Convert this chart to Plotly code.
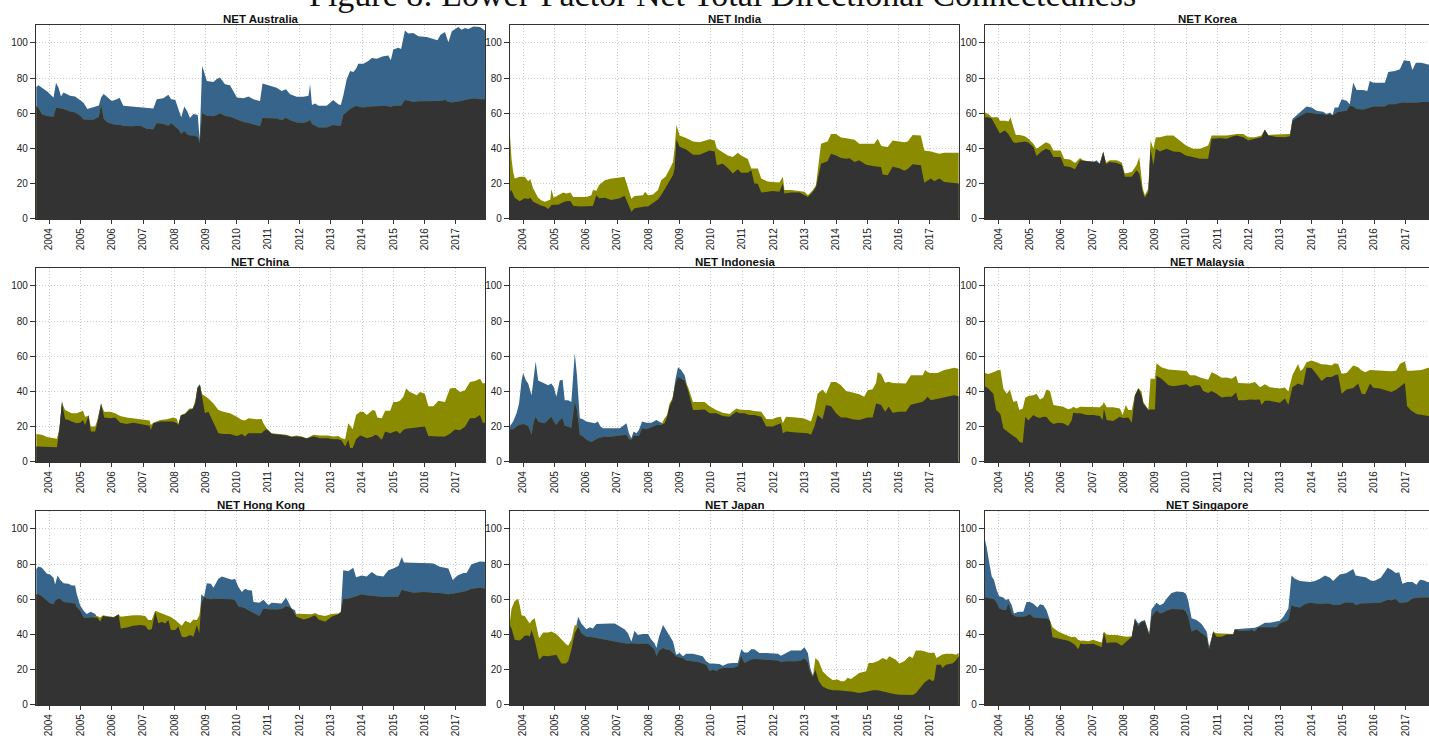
import numpy as np
import plotly.graph_objects as go

# ---------------------------------------------------------------------------
# Net total directional connectedness per market: "to others" vs "from others"
# (time in decimal years)
# ---------------------------------------------------------------------------
aus_t = [2003.59, 2003.66, 2003.77, 2003.93, 2004.14, 2004.22, 2004.30, 2004.38, 2004.46, 2004.67,
         2004.83, 2004.99, 2005.10, 2005.22, 2005.42, 2005.59, 2005.66, 2005.74, 2005.84, 2006.00,
         2006.16, 2006.25, 2006.37, 2006.64, 2006.91, 2007.12, 2007.33, 2007.44, 2007.65, 2007.81,
         2007.90, 2008.03, 2008.13, 2008.22, 2008.32, 2008.42, 2008.50, 2008.61, 2008.75, 2008.81,
         2008.89, 2009.04, 2009.25, 2009.36, 2009.46, 2009.62, 2009.78, 2010.00, 2010.21, 2010.37,
         2010.53, 2010.74, 2010.82, 2011.06, 2011.27, 2011.43, 2011.57, 2011.70, 2011.91, 2012.13,
         2012.29, 2012.34, 2012.40, 2012.50, 2012.61, 2012.87, 2013.08, 2013.24, 2013.32, 2013.40,
         2013.51, 2013.62, 2013.72, 2013.81, 2013.88, 2014.04, 2014.20, 2014.31, 2014.47, 2014.68,
         2014.84, 2014.92, 2015.00, 2015.16, 2015.25, 2015.37, 2015.48, 2015.64, 2015.80, 2016.07,
         2016.28, 2016.41, 2016.51, 2016.65, 2016.76, 2016.87, 2017.08, 2017.18, 2017.29, 2017.40,
         2017.56, 2017.77, 2017.93]
aus_to = [75, 76, 74.5, 72.5, 69, 77.4, 74.5, 69.5, 71.8, 70,
          69.5, 67.5, 66, 62.4, 63.3, 64.5, 69, 71, 69.5, 67,
          68, 68.8, 64.3, 63.9, 63.5, 63, 62.8, 68, 68.6, 70.5,
          68, 67.7, 62.4, 57.7, 63.9, 60.9, 57.3, 59.6, 59, 45,
          87, 78.4, 77.8, 79.5, 80.3, 76.5, 75.9, 69, 68.6, 69.5,
          68, 67, 76.9, 75.9, 74.6, 72.7, 73.7, 70.9, 69.4, 69.4,
          70, 76.5, 64.7, 65.6, 64.3, 64.3, 67.5, 65.2, 64.7, 70,
          79.3, 84, 83.5, 85.3, 88.2, 88.2, 89.7, 91.5, 91, 92.5,
          92.9, 90.2, 96.2, 97.2, 96.6, 107.1, 105.3, 105.6, 103.8, 103.4,
          102.3, 101.5, 104.7, 106.2, 100.4, 106.6, 109, 107.5, 108.5, 107.9,
          109.4, 109, 107.1]
aus_from = [64, 63, 59.5, 58.5, 58, 63, 63, 62.8, 62.5, 61,
            60.5, 58.6, 56.5, 56.4, 56.4, 58, 64.7, 57, 55, 54,
            53.4, 53.5, 52.8, 52.6, 53, 51.1, 51, 54.5, 53.9, 53,
            54.5, 52.3, 51, 48.3, 50, 48, 47.4, 47.4, 46.5, 43,
            60, 58.6, 58.3, 59, 60, 58.5, 58, 56.5, 55, 54.5,
            53.6, 52.6, 57.3, 57.3, 57, 56, 57.5, 56, 54.8, 54.5,
            55.5, 56.4, 53.9, 53, 52, 52, 53.4, 53, 53, 59,
            61, 62.4, 63.5, 64.3, 63.8, 63.3, 63.7, 63.8, 63.9, 64.3,
            64, 63.5, 64.3, 64.3, 64.3, 67.5, 67, 66.5, 66.8, 66.9,
            66.9, 67, 67, 67.5, 66.5, 66.2, 66.5, 67, 67.5, 68,
            68.4, 68, 68]

ind_t = [2003.57, 2003.63, 2003.68, 2003.73, 2003.89, 2004.05, 2004.16, 2004.23, 2004.32, 2004.48,
         2004.59, 2004.69, 2004.80, 2004.87, 2004.90, 2004.98, 2005.12, 2005.28, 2005.38, 2005.51,
         2005.60, 2005.81, 2006.02, 2006.18, 2006.23, 2006.34, 2006.43, 2006.61, 2006.82, 2007.09,
         2007.24, 2007.35, 2007.46, 2007.56, 2007.83, 2007.90, 2007.99, 2008.15, 2008.31, 2008.41,
         2008.55, 2008.68, 2008.79, 2008.84, 2008.90, 2009.00, 2009.21, 2009.43, 2009.64, 2009.96,
         2010.12, 2010.19, 2010.38, 2010.54, 2010.70, 2010.86, 2010.97, 2011.18, 2011.29, 2011.39,
         2011.50, 2011.61, 2011.82, 2011.98, 2012.19, 2012.30, 2012.35, 2012.56, 2012.83, 2012.99,
         2013.10, 2013.26, 2013.36, 2013.52, 2013.73, 2013.84, 2014.00, 2014.16, 2014.32, 2014.43,
         2014.59, 2014.74, 2014.96, 2015.22, 2015.33, 2015.44, 2015.49, 2015.65, 2015.81, 2016.02,
         2016.18, 2016.29, 2016.45, 2016.71, 2016.82, 2017.03, 2017.14, 2017.30, 2017.46, 2017.62,
         2017.92]
ind_to = [15.4, 16.5, 14, 12, 10, 11.7, 11.3, 12, 9.8, 8.3,
          7.5, 7, 5.6, 7, 7.9, 8, 8, 9.4, 10, 10.2,
          7.5, 7, 7.3, 7.3, 7.3, 13.5, 11.7, 12, 10.7, 11.7,
          13.2, 8.8, 4.1, 6, 7, 7, 7, 8.8, 11, 13.5,
          18, 21.5, 25, 28.6, 45, 41, 39.5, 36.5, 36.5, 38.9,
          38.3, 30.5, 31.4, 29, 25.8, 28.2, 26.3, 26.3, 27.6, 20.1,
          20, 15, 15.4, 15.8, 15.4, 20, 14.5, 15, 15, 13.5,
          12.4, 15.5, 18, 31.4, 32.7, 37, 36.1, 34.6, 34.2, 34.5,
          32.3, 33.3, 30.8, 29.9, 29.8, 29.5, 25.2, 24.8, 29.7, 28.8,
          27.3, 28.4, 31, 30.5, 20.5, 22.9, 21.4, 22.9, 21, 20.7,
          20.1]
ind_from = [50, 34, 27, 23, 24, 24, 21.4, 22.6, 17.3, 12,
            10.5, 9.8, 10.5, 11, 16.9, 12, 13.5, 15, 14.5, 15,
            12.4, 12.4, 12.4, 13.5, 16.4, 16, 19.2, 22, 23, 23.5,
            24, 17.7, 11.5, 13, 13.5, 15.4, 13.5, 13.9, 16.4, 22,
            24, 28.2, 32.3, 40, 53.4, 47.4, 46, 44, 43.6, 45.3,
            44.5, 40, 38, 36.1, 35.2, 37.6, 36, 34, 28.6, 28.6,
            28.6, 22.9, 21.2, 21, 20.7, 23.9, 16.4, 16.4, 16, 15.4,
            13.5, 16.5, 19.2, 42.7, 44, 48.3, 48.3, 46.2, 45.9, 45.5,
            45, 42.7, 42.7, 42.7, 45.5, 41.7, 41.3, 40.8, 44.5, 44,
            43.5, 44, 47.7, 47.4, 38.9, 38.3, 37.7, 37, 37.6, 37.6,
            37.6]

kor_t = [2003.57, 2003.68, 2003.79, 2003.89, 2004.00, 2004.05, 2004.11, 2004.21, 2004.32, 2004.39,
         2004.48, 2004.56, 2004.69, 2004.85, 2004.96, 2005.12, 2005.22, 2005.38, 2005.52, 2005.65,
         2005.76, 2005.99, 2006.10, 2006.29, 2006.45, 2006.61, 2006.71, 2006.87, 2007.03, 2007.14,
         2007.24, 2007.35, 2007.44, 2007.56, 2007.78, 2007.94, 2008.04, 2008.26, 2008.41, 2008.50,
         2008.61, 2008.68, 2008.79, 2008.86, 2008.95, 2009.03, 2009.16, 2009.37, 2009.59, 2009.80,
         2009.99, 2010.22, 2010.44, 2010.70, 2010.81, 2011.07, 2011.29, 2011.50, 2011.61, 2011.82,
         2011.98, 2012.19, 2012.40, 2012.51, 2012.62, 2012.88, 2013.15, 2013.31, 2013.39, 2013.57,
         2013.73, 2013.84, 2014.00, 2014.16, 2014.37, 2014.48, 2014.59, 2014.67, 2014.74, 2014.85,
         2014.96, 2015.12, 2015.22, 2015.33, 2015.44, 2015.65, 2015.78, 2015.86, 2015.97, 2016.18,
         2016.34, 2016.45, 2016.66, 2016.82, 2016.95, 2017.09, 2017.14, 2017.22, 2017.33, 2017.51,
         2017.72, 2017.93]
kor_to = [57.7, 57.7, 57.1, 53.9, 50, 48.5, 49.2, 50.2, 48.3, 46,
          43.6, 43.2, 43.4, 44, 43.4, 40.8, 35.7, 38.3, 39.8, 39,
          35.2, 35.2, 30.1, 29.5, 28.2, 33.3, 33, 32.6, 32.2, 33.3,
          31.4, 38, 31, 32.3, 31.8, 30.8, 23.9, 23.9, 27.6, 25.8,
          15.4, 12, 15.4, 39.8, 30.5, 39.8, 38.3, 39.8, 38.3, 38,
          36.1, 35.2, 34.2, 34.2, 45.5, 45.9, 45.5, 47, 47.4, 46.4,
          44.5, 45.5, 46.4, 50.6, 47.4, 46.5, 46.4, 47, 56.8, 59.6,
          62.4, 63.9, 63.3, 61.5, 60.9, 59.6, 60.5, 59, 63.3, 63.3,
          68, 67.1, 65.2, 77.4, 73.3, 73.3, 72.7, 78.4, 77.4, 77.4,
          77.4, 83.5, 84, 85, 90.2, 89.7, 89.7, 84.6, 88.7, 88.7,
          87.8, 87.5]
kor_from = [60.5, 59.6, 57.7, 57.7, 57.7, 55.8, 55.8, 55.8, 55.3, 57.7,
            52.1, 47.7, 47.7, 47, 45.5, 42.7, 39.8, 41.7, 43.6, 42.5,
            38.9, 38.9, 34.2, 33.8, 31.8, 34.6, 33.3, 32.7, 32.3, 32.3,
            31.2, 38.3, 32, 33.3, 33.3, 32, 25.8, 26.7, 30.5, 35.2,
            17.3, 13.5, 17.3, 44.5, 39.8, 46.4, 46.4, 47.4, 47.4, 44.5,
            41.7, 39.8, 39.8, 41.7, 47.4, 47.4, 47.4, 48, 48.3, 48.3,
            46.4, 46.4, 47.4, 50.8, 47.7, 48, 48, 48.3, 55.8, 57.7,
            59.6, 60.5, 60.2, 59.6, 59.6, 59, 59.6, 58.8, 59.6, 60.9,
            61, 61.5, 64.3, 63.9, 62.4, 62.2, 62.8, 63.3, 63.9, 63.9,
            63.9, 65.2, 65.2, 65.8, 66.2, 66, 66, 66, 66, 66.5,
            66.5, 66.5]

chn_t = [2003.59, 2003.77, 2003.93, 2004.09, 2004.25, 2004.33, 2004.41, 2004.51, 2004.62, 2004.72,
         2004.88, 2004.99, 2005.08, 2005.15, 2005.26, 2005.33, 2005.47, 2005.54, 2005.66, 2005.76,
         2005.95, 2006.11, 2006.27, 2006.48, 2006.69, 2006.91, 2007.12, 2007.21, 2007.25, 2007.33,
         2007.55, 2007.76, 2007.97, 2008.08, 2008.13, 2008.21, 2008.35, 2008.48, 2008.59, 2008.67,
         2008.74, 2008.82, 2008.88, 2008.98, 2009.09, 2009.25, 2009.41, 2009.57, 2009.78, 2010.00,
         2010.16, 2010.26, 2010.37, 2010.63, 2010.79, 2010.85, 2010.95, 2011.11, 2011.38, 2011.59,
         2011.75, 2011.91, 2012.07, 2012.23, 2012.45, 2012.66, 2012.92, 2013.08, 2013.24, 2013.35,
         2013.46, 2013.56, 2013.62, 2013.70, 2013.81, 2013.94, 2014.04, 2014.15, 2014.34, 2014.42,
         2014.49, 2014.63, 2014.74, 2014.90, 2015.00, 2015.11, 2015.21, 2015.32, 2015.41, 2015.53,
         2015.75, 2015.85, 2016.01, 2016.12, 2016.28, 2016.44, 2016.65, 2016.81, 2016.97, 2017.13,
         2017.29, 2017.45, 2017.61, 2017.77, 2017.86, 2017.93]
chn_to = [8.8, 8.8, 8.6, 8.4, 8.4, 19, 34.7, 24.2, 23.8, 22.9,
          22, 22.3, 23.8, 21, 26.8, 17.3, 17.3, 22, 33.6, 25.3,
          24.8, 25.3, 22.3, 21.6, 22.3, 21.6, 21, 20.5, 18.2, 22,
          22.9, 22.9, 22.9, 22, 21, 26.4, 27.2, 29.5, 30.2, 33.2,
          42.6, 44.1, 37.3, 27.6, 28.5, 22, 16.3, 15.9, 15.9, 14.8,
          15.9, 14.4, 16.3, 16.3, 16.3, 17.5, 18.6, 16, 15.5, 15,
          14.1, 14.4, 14.2, 13.3, 14.4, 13.5, 13.5, 12.9, 12.9, 12.2,
          8.8, 12.6, 7.9, 7.9, 12.9, 15, 14.5, 13.5, 14.5, 15.4,
          15, 12.6, 17.3, 16.3, 17, 17.6, 16, 18.2, 18.8, 19.1,
          19.5, 20.1, 20.1, 14.8, 14.4, 14.4, 14.4, 16, 18.4, 18,
          20, 24.8, 24.8, 26.6, 22.3, 22.3]
chn_from = [15.8, 15.4, 14.1, 13.5, 13.1, 19.3, 33.6, 29.5, 28.5, 27.6,
            27.6, 28.5, 29.1, 25.7, 26.2, 20.1, 20.1, 23.8, 32.8, 28.5,
            28.5, 27.6, 26.1, 25.3, 24.8, 24.2, 23.5, 23.5, 21, 22.3,
            23.8, 24.2, 25.3, 24.5, 21.6, 26.6, 27.6, 30.4, 30.4, 34.7,
            41.7, 43.5, 38.8, 37.5, 36, 33.2, 29.5, 28.5, 27.6, 25.7,
            23.8, 23.5, 24.8, 24.2, 24.4, 22, 19.1, 16.3, 15.9, 15.4,
            14.4, 15, 14.4, 13.5, 15.4, 15, 15, 14.4, 14.8, 13.5,
            12.9, 22, 20.5, 18.6, 26.6, 28.5, 28.5, 26.6, 29.5, 29.1,
            25.3, 24.8, 29.1, 29.1, 34.1, 34.1, 34.7, 37, 41.7, 39.8,
            37.9, 39.8, 38.8, 31.7, 31.7, 34.7, 34.1, 41.7, 42.2, 39.8,
            40.7, 45.4, 46, 47.3, 44.5, 44.8]

idn_t = [2003.57, 2003.68, 2003.79, 2003.87, 2003.95, 2004.00, 2004.09, 2004.16, 2004.27, 2004.34,
         2004.40, 2004.48, 2004.59, 2004.69, 2004.80, 2004.90, 2004.98, 2005.06, 2005.17, 2005.26,
         2005.33, 2005.44, 2005.54, 2005.65, 2005.72, 2005.81, 2005.91, 2006.02, 2006.18, 2006.29,
         2006.39, 2006.47, 2006.55, 2006.87, 2007.09, 2007.30, 2007.38, 2007.46, 2007.53, 2007.62,
         2007.70, 2007.80, 2007.94, 2008.10, 2008.26, 2008.41, 2008.52, 2008.60, 2008.68, 2008.77,
         2008.87, 2008.95, 2009.05, 2009.16, 2009.27, 2009.37, 2009.43, 2009.59, 2009.80, 2009.96,
         2010.17, 2010.38, 2010.60, 2010.81, 2010.91, 2011.07, 2011.23, 2011.39, 2011.61, 2011.77,
         2011.98, 2012.09, 2012.24, 2012.30, 2012.40, 2012.72, 2012.94, 2013.10, 2013.20, 2013.31,
         2013.41, 2013.57, 2013.68, 2013.84, 2014.00, 2014.16, 2014.32, 2014.53, 2014.74, 2014.90,
         2015.01, 2015.17, 2015.28, 2015.33, 2015.44, 2015.57, 2015.68, 2015.81, 2016.02, 2016.23,
         2016.39, 2016.55, 2016.77, 2016.85, 2016.93, 2017.03, 2017.24, 2017.46, 2017.62, 2017.78,
         2017.91]
idn_to = [20.1, 22.9, 27.6, 33.2, 46.3, 50.5, 46.3, 44.5, 37.9, 47.3,
          57, 46.3, 45.4, 44.8, 43.5, 44.5, 42.6, 37, 46.3, 46.7,
          35.1, 35.1, 34.1, 61.7, 49.2, 24.8, 24.2, 22.9, 22.3, 22,
          22.9, 20.1, 19.1, 19.1, 19.1, 22, 16.3, 13.5, 17.3, 16.3,
          18.2, 22.9, 22.3, 22.3, 23.8, 22.3, 22, 25.7, 31.7, 35.1,
          47.3, 53.8, 52.3, 49.2, 40.7, 33.2, 29.5, 29.5, 29.8, 27.6,
          27.6, 26.1, 25.7, 28.5, 27.6, 27.6, 26.6, 26.6, 25.7, 20.1,
          20.1, 21, 22, 16.3, 17.3, 16.7, 16.7, 16.3, 15.4, 20.1,
          26.6, 24.2, 32.3, 31.7, 27.6, 25.3, 25.3, 24.2, 23.8, 24.8,
          25.3, 25.3, 33.2, 33, 32.3, 28.5, 31.3, 28, 28.5, 28.5,
          32.5, 33.2, 34.2, 35.5, 37, 35.1, 36, 37, 37.3, 37.9,
          37.3]
idn_from = [18.6, 18.6, 20.1, 21, 21.3, 21.6, 21, 20.4, 15.4, 22.9,
            25.7, 22.9, 22.3, 22, 23.8, 25.7, 22.9, 21, 23.8, 24.8,
            20.4, 20.1, 19.1, 34.1, 29.5, 15.4, 14.4, 12.6, 11.3, 12.6,
            13.5, 13.8, 14.1, 14.4, 14.8, 15.4, 12.9, 12.6, 14.8, 14.8,
            14.8, 19.1, 18.6, 19.7, 21, 21, 24.8, 26.6, 33.2, 36,
            44.5, 48.2, 47.3, 46.3, 42.6, 37, 34.1, 34.1, 34.1, 31.7,
            29.5, 28, 27.2, 30.4, 29.8, 29.5, 29.5, 28.9, 28.5, 24.4,
            24.2, 25.3, 25.7, 22, 25.7, 25.3, 24.8, 23.8, 22.9, 29.5,
            38.8, 41.1, 38.8, 45.4, 45.4, 43.5, 40.3, 39.4, 38.5, 37,
            40.7, 41.3, 45, 51, 50, 45, 45.5, 44.8, 44.8, 44.5,
            49.2, 49.2, 49.2, 52.3, 51, 50.5, 50.5, 52.2, 52.9, 53.5,
            52.9]

mys_t = [2003.57, 2003.68, 2003.84, 2003.93, 2004.00, 2004.07, 2004.16, 2004.27, 2004.37, 2004.48,
         2004.59, 2004.67, 2004.78, 2004.86, 2004.96, 2005.12, 2005.22, 2005.33, 2005.44, 2005.54,
         2005.65, 2005.76, 2005.91, 2006.07, 2006.23, 2006.34, 2006.39, 2006.50, 2006.61, 2006.82,
         2007.03, 2007.24, 2007.33, 2007.37, 2007.46, 2007.67, 2007.88, 2007.97, 2008.07, 2008.15,
         2008.26, 2008.36, 2008.47, 2008.57, 2008.63, 2008.79, 2008.86, 2009.00, 2009.05, 2009.21,
         2009.43, 2009.59, 2009.80, 2010.01, 2010.12, 2010.28, 2010.44, 2010.54, 2010.70, 2010.81,
         2010.97, 2011.13, 2011.29, 2011.45, 2011.59, 2011.66, 2011.87, 2012.03, 2012.19, 2012.35,
         2012.40, 2012.51, 2012.67, 2012.88, 2012.99, 2013.15, 2013.26, 2013.39, 2013.57, 2013.65,
         2013.73, 2013.84, 2014.00, 2014.16, 2014.32, 2014.48, 2014.64, 2014.74, 2014.85, 2014.96,
         2015.12, 2015.33, 2015.49, 2015.60, 2015.71, 2015.87, 2015.97, 2016.18, 2016.40, 2016.55,
         2016.71, 2016.82, 2016.98, 2017.05, 2017.19, 2017.35, 2017.51, 2017.72, 2017.93]
mys_to = [43, 41.7, 38.8, 29.5, 28.5, 27, 19.1, 17.3, 16.2, 14.8,
          13.4, 11.5, 10.7, 25.7, 23.5, 26.6, 25.5, 25, 25.7, 25.5,
          23, 21.5, 22.3, 22, 20.4, 23.5, 28, 27.6, 27.6, 26.6,
          26.6, 26.1, 23.8, 30.4, 23.8, 23.3, 25.7, 25, 25, 25.3,
          22.3, 37.5, 41.7, 37.9, 33, 29.5, 29.8, 29.8, 49, 47.3,
          43.5, 43, 43.5, 44.1, 42.6, 43.5, 43.5, 40.3, 39.2, 40.3,
          38.8, 36.6, 37, 37, 39.4, 35.1, 35.1, 35.5, 35.3, 35.5,
          32.3, 34.7, 34.7, 34.1, 33.6, 36, 32.3, 42.5, 44.5, 44,
          43.5, 53.5, 53.3, 49.8, 46, 48.2, 48.2, 49.2, 49.7, 38.8,
          41.1, 42, 44.5, 38.8, 38.5, 44.5, 42.2, 41.7, 40.7, 39.8,
          41.1, 42.5, 44.8, 31.7, 29.1, 27.2, 26.6, 26.1, 26]
mys_from = [50.5, 49.9, 51, 51.8, 52.3, 52.3, 41.7, 38.8, 41.1, 34.1,
            34.7, 29.5, 30.4, 36.5, 37.5, 37.9, 38.8, 35.5, 36.6, 41.1,
            40.3, 32.3, 31.7, 31.3, 30, 30.5, 31.3, 30.4, 31.3, 31.3,
            31, 31, 32.5, 34.1, 31, 31, 30.4, 26.6, 32.3, 29.5,
            29.5, 38, 42, 40, 34.1, 29.8, 47.3, 47.3, 56.1, 53.8,
            52.5, 52.2, 51.8, 51.6, 49.2, 49.2, 48, 47.5, 46.7, 51,
            49.7, 47.8, 48, 47.3, 49, 44.8, 44.5, 44.5, 45.4, 42.6,
            42.8, 44.1, 42.4, 42.2, 41.7, 42.3, 40, 49.2, 55.7, 51.6,
            53, 56.7, 57.6, 56.7, 55.5, 55.3, 54.8, 56.1, 55.7, 50.1,
            50.5, 54.8, 53.8, 52, 51, 52.3, 52.2, 52, 51.8, 51.5,
            52, 55.7, 57.2, 51.8, 51.8, 52.2, 52.3, 53.5, 53.5]

hkg_t = [2003.59, 2003.66, 2003.77, 2003.93, 2004.03, 2004.14, 2004.19, 2004.27, 2004.35, 2004.46,
         2004.62, 2004.72, 2004.83, 2004.88, 2004.99, 2005.10, 2005.20, 2005.33, 2005.47, 2005.54,
         2005.63, 2005.72, 2005.84, 2006.06, 2006.22, 2006.29, 2006.48, 2006.69, 2006.91, 2007.07,
         2007.17, 2007.28, 2007.39, 2007.49, 2007.60, 2007.71, 2007.81, 2007.89, 2008.03, 2008.13,
         2008.24, 2008.35, 2008.51, 2008.61, 2008.72, 2008.80, 2008.86, 2008.95, 2009.04, 2009.17,
         2009.25, 2009.41, 2009.52, 2009.68, 2009.84, 2009.94, 2010.05, 2010.16, 2010.26, 2010.37,
         2010.48, 2010.53, 2010.72, 2010.85, 2011.01, 2011.11, 2011.27, 2011.43, 2011.57, 2011.68,
         2011.75, 2011.86, 2011.91, 2012.13, 2012.29, 2012.39, 2012.50, 2012.61, 2012.82, 2013.03,
         2013.24, 2013.32, 2013.40, 2013.56, 2013.72, 2013.81, 2013.99, 2014.15, 2014.31, 2014.47,
         2014.68, 2014.84, 2015.00, 2015.16, 2015.27, 2015.34, 2015.64, 2015.96, 2016.17, 2016.28,
         2016.49, 2016.76, 2016.90, 2017.05, 2017.24, 2017.34, 2017.50, 2017.77, 2017.93]
hkg_to = [77.3, 78.6, 77.9, 74.5, 74.1, 72.2, 68.5, 73.5, 71.1, 69.2,
          68.9, 67.9, 67.9, 63.2, 56.7, 53.5, 51.6, 52.9, 51.6, 49.7,
          47.3, 50.5, 50.1, 49.7, 51.6, 43.5, 44, 45, 45.4, 45,
          42.6, 43, 52.9, 46.3, 47.3, 46.3, 48.2, 42.6, 42.6, 44.5,
          38.8, 38.5, 39.8, 38.8, 45.4, 40.7, 62.9, 61.5, 69.2, 68.9,
          66.6, 71.7, 73, 72.2, 71.1, 71.7, 67, 64.2, 66, 65.1,
          65, 58.5, 58, 59.8, 56.7, 58, 57.6, 57.6, 61, 57.6,
          54.8, 53.8, 50.1, 48.6, 49.2, 50.1, 51, 48.6, 47.3, 50.1,
          51.5, 52.5, 76.5, 76, 78, 72.5, 73.5, 73, 75.5, 73.5,
          73, 76.5, 77.5, 79, 84, 81, 80.8, 81, 80.5, 80.3,
          78.5, 77.5, 71, 73.5, 75, 75, 80, 81.5, 81.3]
hkg_from = [62.9, 62.9, 61.7, 59.5, 57.6, 57.2, 59, 60.4, 60.4, 58.5,
            58.2, 57.8, 57.6, 55.7, 53.5, 49.7, 49.4, 49.8, 50, 50.5,
            49.7, 51, 50.5, 50, 51.4, 50.1, 50.5, 51, 51, 50.5,
            48.2, 48.2, 53.5, 52.8, 52.3, 51.6, 51, 50, 48.2, 46.5,
            45, 47.8, 46.5, 48.5, 48.2, 51, 57.6, 61.3, 60.5, 60,
            60.4, 60.4, 60.4, 60.4, 60, 59.5, 56, 55.5, 55, 53.8,
            53, 52.3, 50.5, 54.8, 54.4, 54.2, 54.2, 54.5, 56.1, 55.5,
            54.6, 51.5, 51.8, 51.6, 51.8, 51.5, 52.3, 51.2, 50.5, 51.6,
            52, 53, 60.4, 60.4, 61.3, 62, 62.9, 62.3, 62, 61.8,
            61.3, 61.5, 61.5, 61.5, 65.5, 65, 63.8, 64.2, 64, 63.6,
            63.6, 62.9, 63.2, 63.8, 64.4, 64.7, 66, 66.6, 66]

jpn_t = [2003.57, 2003.63, 2003.73, 2003.84, 2003.89, 2003.95, 2004.05, 2004.16, 2004.21, 2004.27,
         2004.37, 2004.51, 2004.64, 2004.80, 2004.90, 2005.06, 2005.22, 2005.36, 2005.44, 2005.54,
         2005.65, 2005.76, 2005.86, 2006.02, 2006.13, 2006.23, 2006.34, 2006.55, 2006.77, 2006.93,
         2007.09, 2007.24, 2007.35, 2007.46, 2007.56, 2007.67, 2007.83, 2007.99, 2008.10, 2008.20,
         2008.26, 2008.34, 2008.47, 2008.57, 2008.68, 2008.79, 2008.89, 2009.00, 2009.11, 2009.21,
         2009.43, 2009.59, 2009.74, 2009.85, 2009.96, 2010.06, 2010.17, 2010.28, 2010.38, 2010.54,
         2010.70, 2010.86, 2010.97, 2011.07, 2011.18, 2011.29, 2011.39, 2011.55, 2011.77, 2011.98,
         2012.14, 2012.24, 2012.40, 2012.56, 2012.72, 2012.88, 2012.99, 2013.10, 2013.18, 2013.26,
         2013.34, 2013.45, 2013.57, 2013.73, 2013.89, 2014.05, 2014.16, 2014.27, 2014.37, 2014.48,
         2014.59, 2014.74, 2014.96, 2015.04, 2015.17, 2015.33, 2015.49, 2015.62, 2015.70, 2015.81,
         2015.91, 2016.02, 2016.18, 2016.34, 2016.45, 2016.55, 2016.71, 2016.82, 2016.98, 2017.09,
         2017.14, 2017.21, 2017.35, 2017.40, 2017.51, 2017.72, 2017.83, 2017.92]
jpn_to = [45.4, 43.5, 37, 36.5, 36.6, 37.5, 39.3, 39.5, 38.8, 42.6,
          36.6, 25.7, 28, 27.6, 28, 28.5, 23.5, 23.5, 24.8, 31.3,
          40.7, 50.1, 46.3, 43, 44.1, 43.5, 46, 46.3, 46.3, 46.3,
          44.8, 43, 40.7, 36, 42.2, 39.8, 40.3, 40.3, 37, 35.1,
          32.3, 38.8, 45.4, 42.6, 38.8, 36, 28.5, 29.5, 27.6, 29.1,
          29.1, 28.5, 27.6, 24.8, 23.5, 23.5, 23.5, 23.3, 22.3, 23.5,
          23.8, 23.8, 31.7, 29.8, 29.8, 31.7, 31.7, 29.5, 29.5, 29.1,
          29.1, 28, 29.5, 31, 31, 31, 32.8, 29.5, 20.5, 16.7,
          20, 13.5, 10.5, 9, 8.4, 8.4, 8.1, 7.9, 7.8, 7.7,
          7.2, 6.8, 7.5, 8, 8.4, 8.4, 7.9, 7.2, 6.8, 6.3,
          6, 5.8, 5.8, 5.7, 5.6, 6.6, 9.8, 12.6, 14.8, 13.5,
          14.4, 22.9, 22.9, 21, 22.9, 23.5, 25.3, 27.6]
jpn_from = [46.3, 54.8, 59.1, 60.4, 56.7, 51, 50.5, 47.8, 46.3, 48,
            49.2, 37.9, 41.1, 41.1, 41.7, 40.3, 37, 34.7, 33.6, 37,
            45.4, 44.5, 40.7, 38.8, 38.8, 38.5, 37.8, 37.2, 36.8, 36.2,
            35.5, 35, 34.8, 35.1, 34.8, 34.7, 34.7, 34.7, 33.2, 31.3,
            27.6, 30.8, 32.3, 31.3, 31.3, 29.5, 27.6, 27, 26.6, 25.3,
            24.8, 24.4, 23.5, 22.9, 19.1, 20.1, 19.1, 20.5, 21, 21,
            21, 22, 28, 23.8, 25, 25.8, 26.1, 25.9, 25.5, 25.3,
            25.3, 24.2, 24.8, 24.8, 24.8, 25.3, 26.5, 24, 18.5, 16,
            26.6, 24.8, 19.1, 16.3, 14.1, 14.4, 13.5, 13.5, 15.4, 14.8,
            16.3, 18.2, 19.1, 23.8, 23.8, 24.8, 26.6, 25.7, 27.6, 26.6,
            25.7, 23.5, 24.8, 27.6, 26.6, 31, 31, 30.5, 29.5, 29.7,
            29.8, 26.6, 28.5, 28.7, 29.1, 29.1, 28.5, 29.5]

sgp_t = [2003.57, 2003.63, 2003.71, 2003.79, 2003.86, 2003.95, 2004.03, 2004.16, 2004.25, 2004.32,
         2004.43, 2004.50, 2004.64, 2004.80, 2004.90, 2005.01, 2005.12, 2005.25, 2005.33, 2005.44,
         2005.54, 2005.65, 2005.73, 2005.91, 2006.07, 2006.23, 2006.34, 2006.45, 2006.55, 2006.63,
         2006.71, 2006.87, 2007.03, 2007.19, 2007.30, 2007.37, 2007.46, 2007.56, 2007.78, 2007.94,
         2008.10, 2008.26, 2008.36, 2008.47, 2008.57, 2008.68, 2008.82, 2008.89, 2009.05, 2009.16,
         2009.27, 2009.37, 2009.53, 2009.69, 2009.90, 2009.99, 2010.06, 2010.17, 2010.33, 2010.49,
         2010.65, 2010.73, 2010.81, 2010.86, 2010.97, 2011.13, 2011.29, 2011.50, 2011.55, 2011.71,
         2011.93, 2012.09, 2012.19, 2012.30, 2012.51, 2012.67, 2012.88, 2012.99, 2013.10, 2013.26,
         2013.36, 2013.47, 2013.63, 2013.79, 2013.95, 2014.11, 2014.27, 2014.43, 2014.59, 2014.69,
         2014.80, 2014.90, 2015.06, 2015.12, 2015.33, 2015.41, 2015.57, 2015.73, 2015.89, 2016.00,
         2016.21, 2016.43, 2016.56, 2016.69, 2016.80, 2016.90, 2017.06, 2017.22, 2017.35, 2017.46,
         2017.60, 2017.70, 2017.93]
sgp_to = [94.2, 89.5, 81, 73, 71.1, 65.1, 61.7, 61, 59.5, 60.4,
          56.7, 52, 52.9, 52.9, 58.5, 58.5, 57.5, 55.3, 57.2, 56.7,
          53.8, 48, 38.5, 37.8, 37.2, 36.5, 35.5, 34, 31.7, 35,
          34.5, 34.7, 34.7, 33.6, 32.8, 41.1, 35.1, 35.5, 35.5, 33.6,
          36, 38.8, 49.2, 46.3, 47.5, 48.2, 40.3, 54.2, 58, 56.7,
          57.6, 60.4, 63.6, 64.5, 64.2, 63.2, 59.5, 49.2, 48.2, 46,
          41.7, 33.2, 38, 42, 38.8, 38.8, 40, 40, 43, 43.2,
          43.5, 44, 43.8, 44.5, 46.7, 46.7, 47.3, 47.8, 50.1, 54.8,
          73.5, 71.7, 70.4, 70.3, 69.8, 70.4, 71.7, 73.5, 72.2, 70.4,
          72.2, 74.1, 74.7, 74.9, 77.3, 73.5, 73, 72.6, 70.7, 70.4,
          72.2, 77.9, 76.7, 74.9, 75.4, 68.9, 69.8, 69.8, 68.3, 71.1,
          70.7, 69.8, 69.5]
sgp_from = [61, 61, 60.6, 60.3, 60, 58, 54.8, 54, 54, 57.6,
            52, 50.5, 50.1, 50.1, 50.5, 51.6, 49.7, 49.4, 49.2, 49.2,
            49.2, 47.8, 44.1, 41.7, 40.5, 39.5, 38.5, 38.8, 37, 36.5,
            36.6, 36.2, 37, 36, 35.5, 41.7, 40, 39.8, 39.8, 39.2,
            38.8, 39, 48.5, 44.5, 47.3, 47.3, 39.8, 50.1, 53.8, 52,
            52.5, 53.5, 54.5, 54.5, 54.2, 52.9, 50.1, 41.7, 43, 40.7,
            38.8, 31.7, 37.5, 41.5, 40.7, 40.5, 40.3, 40.3, 42.8, 42.2,
            42.2, 42.6, 41.7, 44.1, 44.1, 44.1, 44.1, 46.3, 47, 48.2,
            56.7, 55.8, 55.3, 57.2, 58, 57.5, 57.3, 57.6, 57.5, 56.8,
            56.7, 56.9, 58, 58.2, 58, 56.7, 57.6, 57.8, 58, 58,
            58.1, 59.8, 59.5, 60.2, 58, 58, 58.3, 60.5, 61, 61,
            61, 61, 61]

titles = ["NET Australia", "NET India", "NET Korea",
          "NET China", "NET Indonesia", "NET Malaysia",
          "NET Hong Kong", "NET Japan", "NET Singapore"]
series = [(aus_t, aus_to, aus_from), (ind_t, ind_to, ind_from), (kor_t, kor_to, kor_from),
          (chn_t, chn_to, chn_from), (idn_t, idn_to, idn_from), (mys_t, mys_to, mys_from),
          (hkg_t, hkg_to, hkg_from), (jpn_t, jpn_to, jpn_from), (sgp_t, sgp_to, sgp_from)]
years = list(range(2004, 2018))
y_ticks = [0, 20, 40, 60, 80, 100]

# ---------------------------------------------------------------------------
# styling / layout
# ---------------------------------------------------------------------------
W, H = 1429, 740
TO_COLOR = "#36648B"     # to others exceeds from others
FROM_COLOR = "#8B8B00"   # from others exceeds to others
BASE_COLOR = "#333333"   # common part of both
AX_COLOR = "#333333"
GRID_COLOR = "#cccccc"
GRID_DASH = "1px,2px"
FONT = "Liberation Sans"

col_px = [(36, 485), (510, 959), (985, 1429)]
row_px = [(25, 220.7), (270, 465.7), (515, 710.7)]
x_ranges = [[2003.58, 2017.93], [2003.58, 2017.93], [2003.575, 2017.75]]

fig = go.Figure()
layout = dict(
    width=W, height=H,
    margin=dict(l=0, r=0, t=0, b=0),
    paper_bgcolor="white", plot_bgcolor="white",
    showlegend=False,
    annotations=[],
)

for i, (title, (t, to_vals, from_vals)) in enumerate(zip(titles, series)):
    r, c = divmod(i, 3)
    n = i + 1
    xa = "x" if n == 1 else f"x{n}"
    ya = "y" if n == 1 else f"y{n}"
    to_arr = np.array(to_vals, dtype=float)
    from_arr = np.array(from_vals, dtype=float)
    common = np.minimum(to_arr, from_arr)
    # "to" area, then "from" area over it, then the shared part on top
    for vals, colr in ((to_arr, TO_COLOR), (from_arr, FROM_COLOR), (common, BASE_COLOR)):
        fig.add_trace(go.Scatter(
            x=t, y=vals, mode="lines", fill="tozeroy", fillcolor=colr,
            line=dict(width=0, color=colr), hoverinfo="skip",
            xaxis=xa, yaxis=ya,
        ))

    x0, x1 = col_px[c]
    top, bottom = row_px[r]
    dom_x = [x0 / W, x1 / W]
    dom_y = [1 - bottom / H, 1 - top / H]
    key = "" if n == 1 else str(n)
    layout["xaxis" + key] = dict(
        domain=dom_x, range=x_ranges[c], anchor=ya,
        tickmode="array", tickvals=years, ticktext=[str(v) for v in years],
        tickangle=-90, ticks="outside", ticklen=4, tickwidth=1, tickcolor=AX_COLOR,
        tickfont=dict(family=FONT, size=10, color="#222222"),
        showgrid=True, gridcolor=GRID_COLOR, griddash=GRID_DASH, gridwidth=1,
        showline=True, linecolor=AX_COLOR, linewidth=1.3, mirror=True,
        zeroline=False, fixedrange=True,
    )
    layout["yaxis" + key] = dict(
        domain=dom_y, range=[0, 110.3], anchor=xa,
        tickmode="array", tickvals=y_ticks, ticktext=[str(v) for v in y_ticks],
        ticks="outside", ticklen=5, tickwidth=1, tickcolor=AX_COLOR,
        tickfont=dict(family=FONT, size=10, color="#222222"),
        showgrid=True, gridcolor=GRID_COLOR, griddash=GRID_DASH, gridwidth=1,
        showline=True, linecolor=AX_COLOR, linewidth=1.3, mirror=(c != 2),
        zeroline=False, fixedrange=True,
    )
    layout["annotations"].append(dict(
        text=f"<b>{title}</b>", xref="paper", yref="paper",
        x=(x0 + x1) / 2 / W, y=1 - (top - 5.5) / H,
        xanchor="center", yanchor="middle", showarrow=False,
        font=dict(family=FONT, size=11.5, color="#111111"),
    ))

# figure caption, running off the top edge of the page
layout["annotations"].append(dict(
    text="Figure 8: Lower-Factor Net Total Directional Connectedness",
    xref="paper", yref="paper", x=722 / W, y=1 - 15 / H,
    xanchor="center", yanchor="bottom", showarrow=False,
    font=dict(family="Liberation Serif", size=34, color="#111111"),
))

fig.update_layout(**layout)
fig.write_html("out.html", config={"displayModeBar": False})
